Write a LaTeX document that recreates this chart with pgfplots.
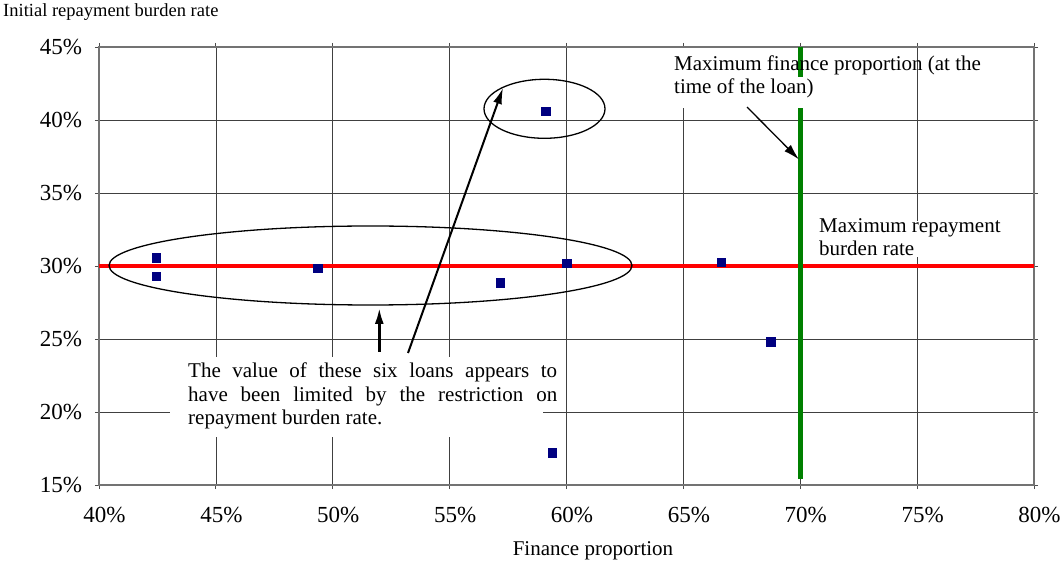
\documentclass[border=0pt]{standalone}
\usepackage{fontspec}
\setmainfont{Liberation Serif}
\usepackage{pgfplots}
\pgfplotsset{compat=1.18}
\usetikzlibrary{arrows.meta}
\definecolor{mynavy}{RGB}{0,0,128}
\definecolor{mygreen}{RGB}{0,128,0}
\begin{document}
\begin{tikzpicture}[font=\fontsize{21bp}{23.5bp}\selectfont]
\useasboundingbox (-99bp,-77bp) rectangle (962bp,485bp);
\begin{axis}[
  at={(0,0)}, anchor=south west,
  scale only axis, width=935bp, height=438bp,
  xmin=40, xmax=80, ymin=15, ymax=45,
  xtick={40,45,...,80}, ytick={15,20,...,45},
  xticklabels={40\%,45\%,50\%,55\%,60\%,65\%,70\%,75\%,80\%},
  yticklabels={15\%,20\%,25\%,30\%,35\%,40\%,45\%},
  grid=major, major grid style={black!75, line width=0.7bp},
  axis line style={black!55, line width=1.2bp},
  tick style={black!70, line width=0.8bp}, tick align=outside, major tick length=4bp,
  ticklabel style={font=\fontsize{23bp}{26bp}\selectfont},
  xticklabel style={yshift=-15bp, xshift=5.5bp}, yticklabel style={xshift=-9.5bp},
  /pgf/number format/assume math mode=true,
  clip=false,
]
\addplot[only marks, mark=square*, mark size=4.3bp, color=mynavy, mark options={draw=none}] coordinates {
 (42.45,30.55) (42.45,29.3) (49.36,29.85) (57.17,28.85) (60.02,30.2)
 (59.1,40.6) (66.62,30.27) (68.73,24.8) (59.39,17.2)
};
\addplot[red, line width=4.5bp] coordinates {(40,30) (80,30)};
\addplot[mygreen, line width=4.5bp] coordinates {(70,15.4) (70,45)};
\end{axis}
% white boxes behind annotations
\fill[white] (574bp,436.5bp) rectangle (697bp,408bp);
\fill[white] (574bp,408bp) rectangle (731bp,377bp);
\fill[white] (716bp,264bp) rectangle (901bp,228bp);
\fill[white] (71bp,128bp) rectangle (444bp,48bp);
% texts
\node[anchor=base west, inner sep=0, font=\fontsize{18.5bp}{22bp}\selectfont] at (-96bp,468bp) {Initial repayment burden rate};
\node[anchor=base, inner sep=0] at (494bp,-70bp) {Finance proportion};
\node[anchor=base west, inner sep=0, align=left] at (575bp,391.2bp) {Maximum finance proportion (at the\\time of the loan)};
\node[anchor=base west, inner sep=0, align=left] at (720bp,229.3bp) {Maximum repayment\\burden rate};
\node[anchor=base west, inner sep=0, align=left] at (89bp,60bp) {\makebox[369bp][s]{The value of these six loans appears to}\\\makebox[369bp][s]{have been limited by the restriction on}\\repayment burden rate.};
% ellipses
\draw[black, line width=1.3bp] (271.5bp,219.5bp) ellipse [x radius=261.5bp, y radius=39.5bp];
\draw[black, line width=1.3bp] (445.5bp,376.2bp) ellipse [x radius=60.5bp, y radius=29.5bp];
% arrows
\draw[line width=2bp, -{Latex[length=16bp,width=9bp]}] (309bp,132bp) -- (404bp,397bp);
\draw[line width=2.5bp, -{Latex[length=16bp,width=9bp]}] (280.3bp,133bp) -- (280.3bp,177bp);
\draw[line width=1.3bp, -{Latex[length=16bp,width=9bp]}] (648bp,378bp) -- (700bp,325.5bp);
\end{tikzpicture}
\end{document}
